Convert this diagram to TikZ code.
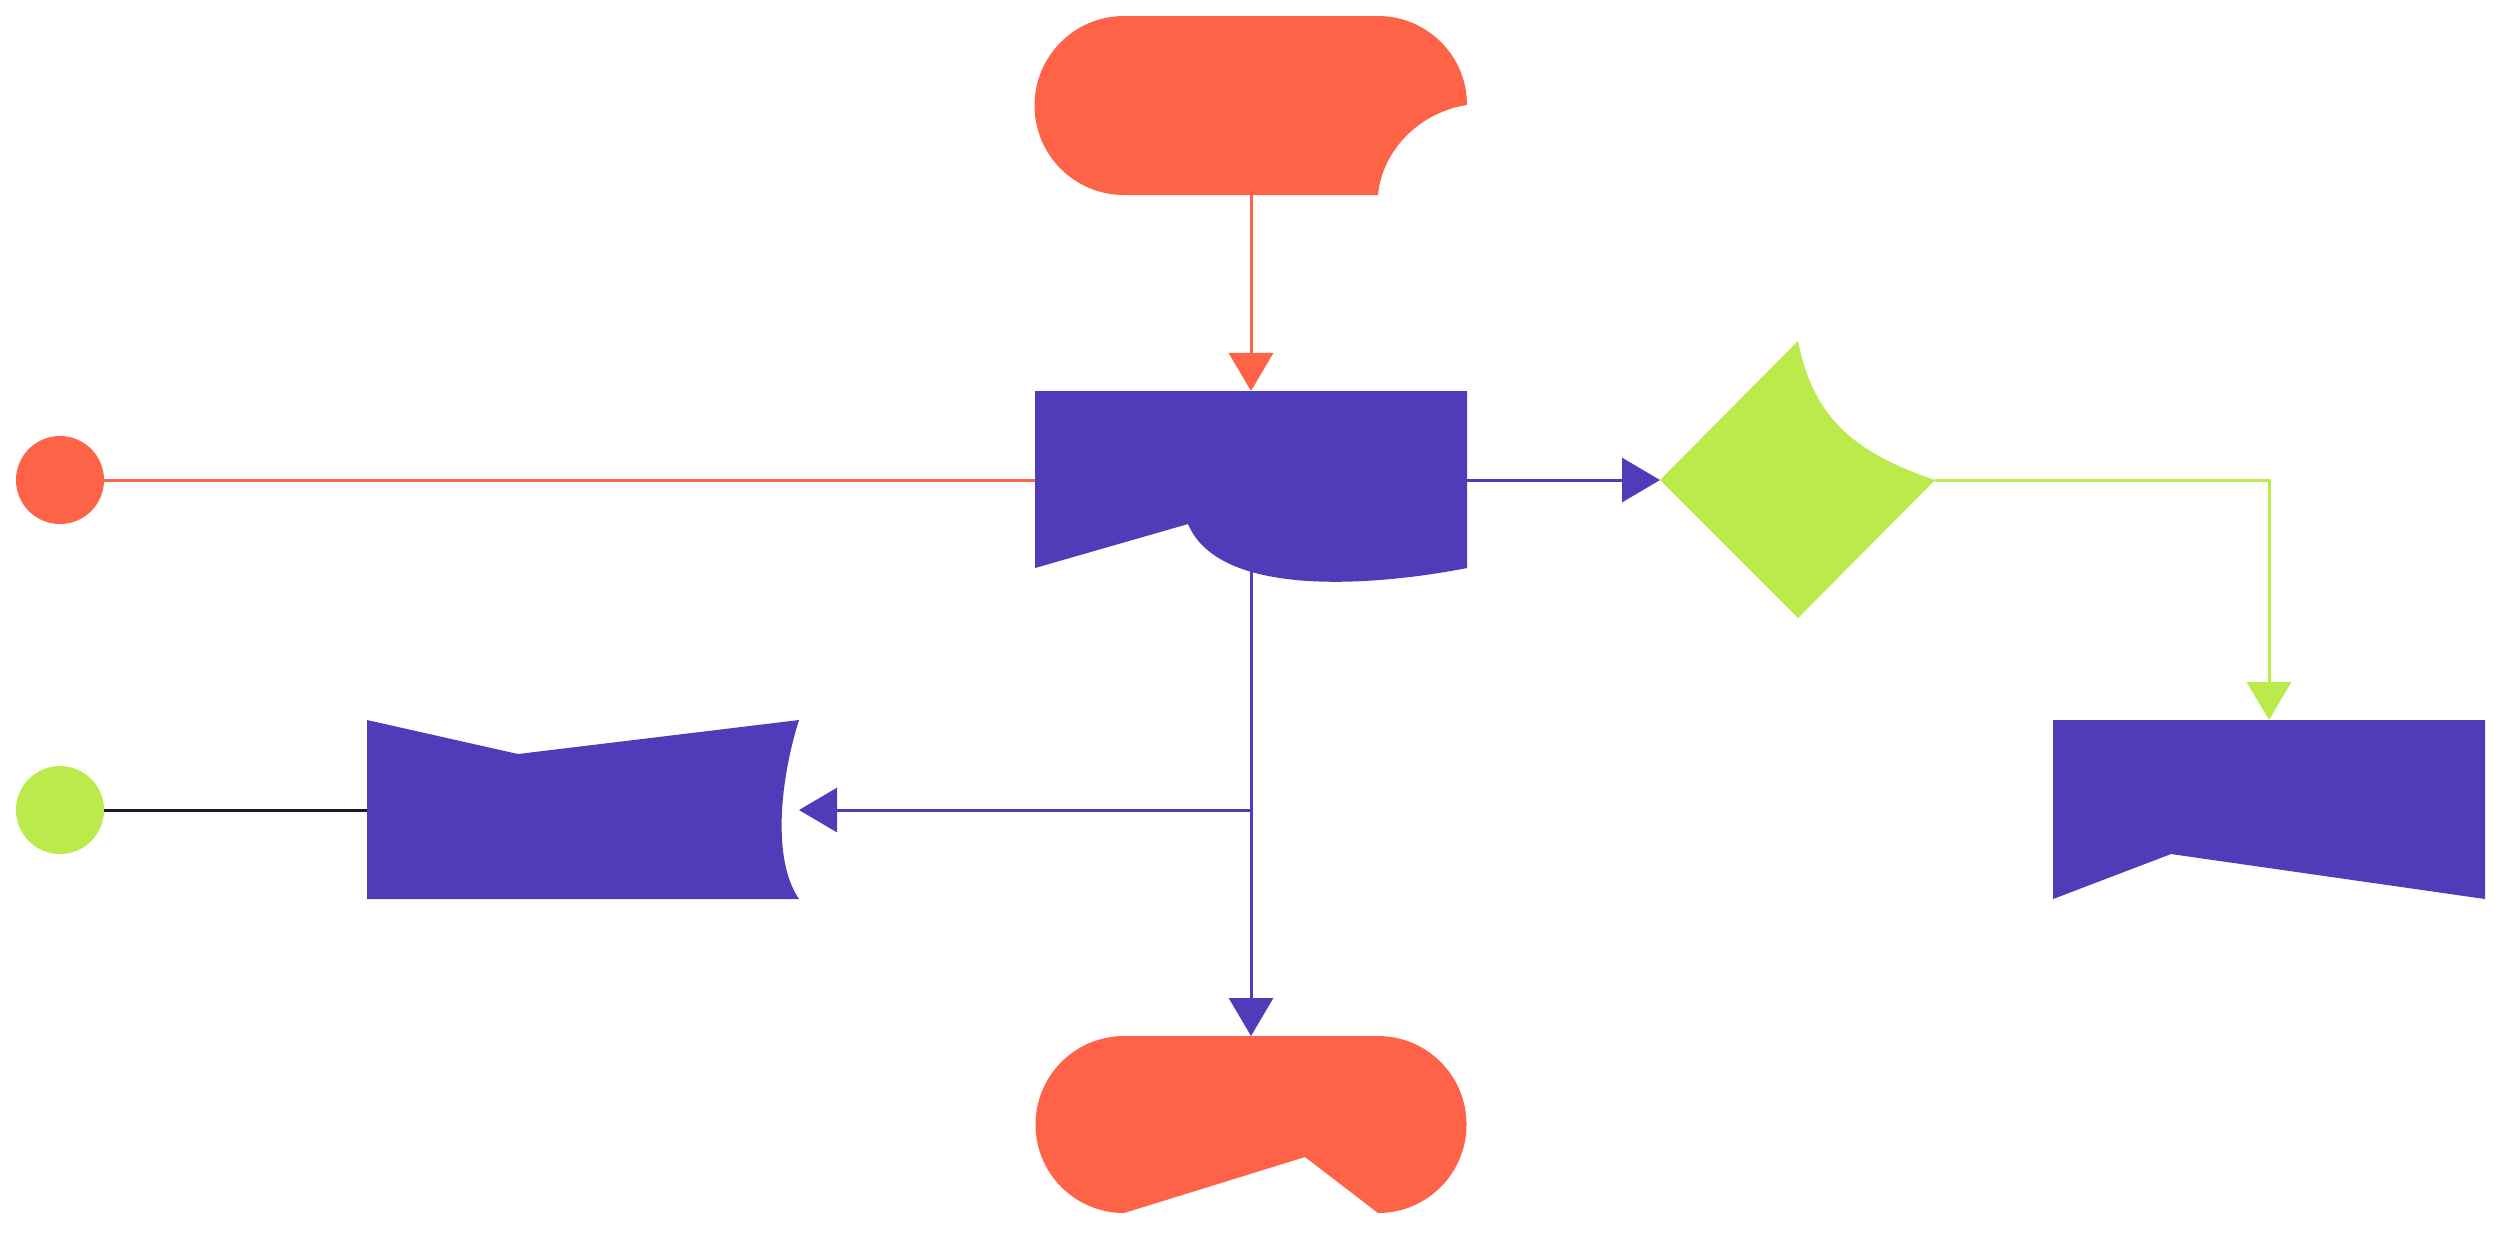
\documentclass[tikz,border=0pt]{standalone}
\usetikzlibrary{arrows.meta}
\definecolor{cr}{HTML}{FF6347}
\definecolor{cp}{HTML}{4F3CB8}
\definecolor{cg}{HTML}{BBEB4B}
\definecolor{ck}{HTML}{1A1A2E}
\begin{document}
\begin{tikzpicture}[x=0.01cm,y=-0.01cm,
  conn/.style={line width=0.3mm,-{Triangle[length=0.38cm,width=0.44cm]}},
  plain/.style={line width=0.3mm}]
\useasboundingbox (0,0) rectangle (2501,1250);
% shapes
\fill[cr] (1124,16) -- (1378,16) arc[start angle=270,end angle=360,radius=89] .. controls (1420,112) and (1382,150) .. (1378,195) -- (1124,195) arc[start angle=90,end angle=270,radius=89.5] -- cycle;
\fill[cp] (1035,391) -- (1467,391) -- (1467,568) .. controls (1380,585) and (1220,600) .. (1188,524) -- (1035,568) -- cycle;
\fill[cp] (367,720) -- (518,754) -- (799,720) .. controls (780,780) and (772,860) .. (799,899) -- (367,899) -- cycle;
\fill[cp] (2053,720) -- (2485,720) -- (2485,899) -- (2171,854) -- (2053,899) -- cycle;
\fill[cg] (1798,341) .. controls (1812,410) and (1845,450) .. (1935,480) -- (1798,618) -- (1660,480) -- cycle;
\fill[cr] (1124,1036) -- (1378,1036) arc[start angle=270,end angle=450,radius=88.5] -- (1305,1157) -- (1124,1213) arc[start angle=90,end angle=270,radius=88.5] -- cycle;
\fill[cr] (60,480) circle[radius=44];
\fill[cg] (60,810) circle[radius=44];
% named anchors
\coordinate (t) at (1251,195); \coordinate (mt) at (1251,391);
\coordinate (rc) at (104,480); \coordinate (ml) at (1035,480);
\coordinate (mr) at (1467,480); \coordinate (dl) at (1660,480);
\coordinate (dr) at (1935,480); \coordinate (rt) at (2269,720);
\coordinate (mb) at (1251,560); \coordinate (bt) at (1251,1036);
\coordinate (j) at (1251,810); \coordinate (lr) at (799,810);
\coordinate (gc) at (104,810); \coordinate (ll) at (367,810);
\draw[conn,cr] (t) -- (mt);
\draw[plain,cr] (rc) -- (ml);
\draw[conn,cp] (mr) -- (dl);
\draw[conn,cg] (dr) -| (rt);
\draw[conn,cp] (mb) -- (bt);
\draw[conn,cp] (j) -- (lr);
\draw[plain,ck] (gc) -- (ll);
\end{tikzpicture}
\end{document}
